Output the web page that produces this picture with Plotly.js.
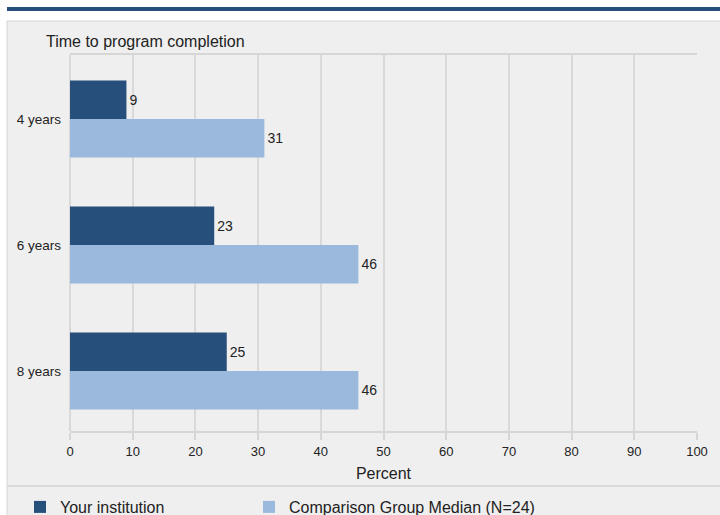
<!DOCTYPE html>
<html>
<head>
<meta charset="utf-8">
<script src="https://cdn.plot.ly/plotly-3.0.1.min.js"></script>
<style>html,body{margin:0;padding:0;background:#fff;}#chart{width:720px;height:515px;}</style>
</head>
<body>
<div id="chart"></div>
<script>
var categories = ["4 years", "6 years", "8 years"];
var yourInstitution = [9, 23, 25];
var comparisonMedian = [31, 46, 46];
var seriesNames = ["Your institution", "Comparison Group Median (N=24)"];
var xTicks = [0, 10, 20, 30, 40, 50, 60, 70, 80, 90, 100];

var W = 720, H = 515;
var L = 70, R = 23, T = 55, B = 84;
var pw = W - L - R, ph = H - T - B;
function px(x) { return (x - L) / pw; }
function py(y) { return (H - B - y) / ph; }

var font = "Liberation Sans, Arial, sans-serif";

var traces = [
  {
    type: "bar", orientation: "h", name: seriesNames[0], legend: "legend",
    y: categories, x: yourInstitution,
    marker: {color: "#264f7c"},
    text: yourInstitution.map(String), textposition: "outside", constraintext: "none",
    textfont: {size: 14, color: "#222", family: font},
    cliponaxis: false, hoverinfo: "x+y"
  },
  {
    type: "bar", orientation: "h", name: seriesNames[1], legend: "legend2",
    y: categories, x: comparisonMedian,
    marker: {color: "#9ab9dd"},
    text: comparisonMedian.map(String), textposition: "outside", constraintext: "none",
    textfont: {size: 14, color: "#222", family: font},
    cliponaxis: false, hoverinfo: "x+y"
  }
];

var legendBase = {
  orientation: "h", xanchor: "left", y: py(490), yanchor: "top",
  font: {size: 16, family: font, color: "#222"},
  bgcolor: "rgba(0,0,0,0)", itemclick: false, itemdoubleclick: false
};

var layout = {
  width: W, height: H,
  margin: {l: L, r: R, t: T, b: B, pad: 0, autoexpand: false},
  paper_bgcolor: "#ffffff",
  plot_bgcolor: "rgba(0,0,0,0)",
  font: {family: font, size: 13, color: "#222"},
  barmode: "group", bargap: 0.39, bargroupgap: 0,
  title: {
    text: "Time to program completion",
    x: 46 / W, xref: "container", xanchor: "left",
    y: 1 - 41 / H, yref: "container", yanchor: "middle",
    font: {family: font, size: 16, color: "#222"}
  },
  xaxis: {
    range: [0, 100], tickvals: xTicks, ticktext: xTicks.map(String),
    showgrid: true, gridcolor: "#d9d9d9", gridwidth: 2,
    zeroline: true, zerolinecolor: "#d9d9d9", zerolinewidth: 2,
    showline: true, mirror: true, linecolor: "#d6d6d6", linewidth: 2,
    ticks: "outside", ticklen: 7, tickcolor: "#d6d6d6", tickwidth: 2,
    tickfont: {size: 13, family: font, color: "#222"},
    title: {text: "Percent", font: {size: 16, family: font, color: "#222"}, standoff: 10},
    fixedrange: true
  },
  yaxis: {
    range: [2.476, -0.508], showgrid: false, zeroline: false,
    ticks: "", ticklabelstandoff: 8,
    tickfont: {size: 13.5, family: font, color: "#222"},
    fixedrange: true
  },
  showlegend: true,
  legend: Object.assign({}, legendBase, {x: px(20)}),
  legend2: Object.assign({}, legendBase, {x: px(249)}),
  shapes: [
    {type: "rect", xref: "paper", yref: "paper", layer: "below",
     x0: px(7), x1: px(721), y0: py(21), y1: py(516),
     fillcolor: "#efefef", line: {color: "#d6d6d6", width: 1}},
    {type: "rect", xref: "paper", yref: "paper", layer: "below",
     x0: px(7), x1: px(721), y0: py(7), y1: py(11),
     fillcolor: "#264f7c", line: {width: 0}},
    {type: "line", xref: "paper", yref: "paper", layer: "below",
     x0: px(7), x1: px(721), y0: py(486), y1: py(486),
     line: {color: "#d9d9d9", width: 2}}
  ]
};

Plotly.newPlot("chart", traces, layout, {displayModeBar: false, staticPlot: true});
</script>
</body>
</html>
